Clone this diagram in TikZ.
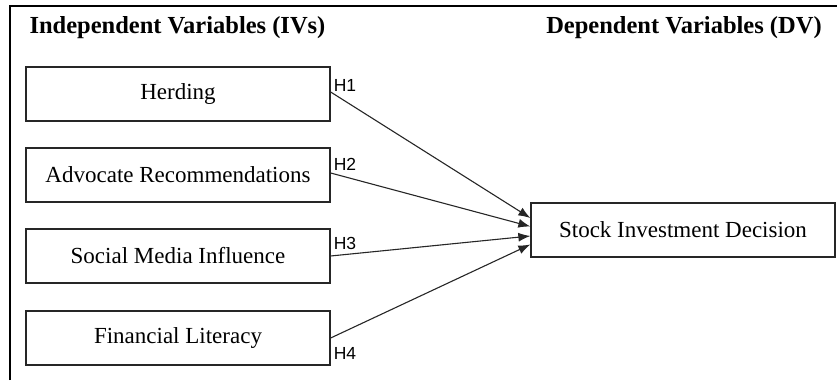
\documentclass[tikz,border=0pt]{standalone}
\usepackage{fontspec}
\setmainfont{Liberation Serif}
\newfontfamily\hfont{Liberation Sans}
\usetikzlibrary{arrows.meta}
\begin{document}
\begin{tikzpicture}[x=1pt,y=1pt,
  varbox/.style={draw=black!85, line width=1.3pt, minimum width=304pt, minimum height=54pt,
    inner sep=0pt, font=\fontsize{23}{27}\selectfont},
  title/.style={font=\fontsize{24.5}{29}\selectfont\bfseries, inner sep=0pt},
  hlab/.style={font=\hfont\fontsize{17.5}{20}\selectfont, inner sep=0pt, anchor=west},
  conn/.style={draw=black!85, line width=1.1pt, -{Latex[length=12pt,width=9pt]}}]
\useasboundingbox (0,0) rectangle (837,380);
\draw[line width=2.5pt] (10,0) -- (10,374) -- (837,374);
\node[title] (tiv) at (177.5,352) {Independent Variables (IVs)};
\node[title] (tdv) at (684,352) {Dependent Variables (DV)};
\node[varbox] (b1) at (178,286) {Herding};
\node[varbox] (b2) at (178,205) {Advocate Recommendations};
\node[varbox] (b3) at (178,124) {Social Media Influence};
\node[varbox] (b4) at (178,42) {Financial Literacy};
\node[varbox] (dv) at (683,150) {Stock Investment Decision};
\coordinate (e1) at ([yshift=12pt]dv.west);
\coordinate (e2) at ([yshift=3.5pt]dv.west);
\coordinate (e3) at ([yshift=-6pt]dv.west);
\coordinate (e4) at ([yshift=-14.5pt]dv.west);
\draw[conn] ([yshift=2pt]b1.east) -- (e1);
\draw[conn] ([yshift=2pt]b2.east) -- (e2);
\draw[conn] (b3.east) -- (e3);
\draw[conn] (b4.east) -- (e4);
\node[hlab] (h1) at ([xshift=3pt,yshift=9pt]b1.east) {H1};
\node[hlab] (h2) at ([xshift=3pt,yshift=11pt]b2.east) {H2};
\node[hlab] (h3) at ([xshift=3pt,yshift=13pt]b3.east) {H3};
\node[hlab] (h4) at ([xshift=3pt,yshift=-15pt]b4.east) {H4};
\end{tikzpicture}
\end{document}
